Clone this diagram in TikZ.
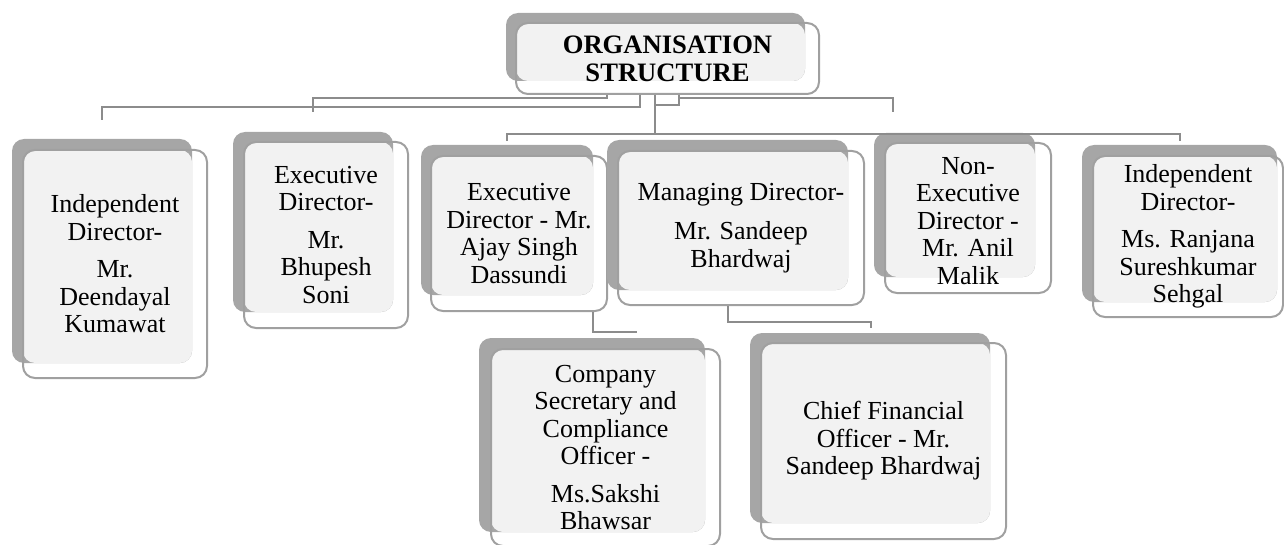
\documentclass[tikz,border=0pt]{standalone}
\usepackage{fontspec}
\setmainfont{Liberation Serif}
\usetikzlibrary{fit}

\definecolor{shade}{HTML}{A6A6A6}
\definecolor{face}{HTML}{F2F2F2}
\definecolor{rim}{HTML}{A0A0A0}
\definecolor{wire}{HTML}{8C8C8C}

\begin{document}
\begin{tikzpicture}[x=0.5pt, y=-0.5pt,
    backbox/.style={fill=shade, rounded corners=6pt},
    facebox/.style={fill=face, rounded corners=6pt},
    rimbox/.style={draw=rim, line width=1pt, rounded corners=6pt, inner sep=0pt},
    txt/.style={align=center, inner sep=0pt, font=\fontsize{13}{13.75}\selectfont},
    headtxt/.style={txt, font=\fontsize{13.3}{14}\selectfont\bfseries},
    wire/.style={draw=wire, line width=1pt}]
\useasboundingbox (0,0) rectangle (1284,545);

% title
\fill[backbox] (506,13) rectangle (805,81);
\fill[facebox] (516,23) rectangle (805,81);
\node[rimbox, fit={(516,23)(819,94)}] (title) {};
\node[headtxt] (title-t) at (title.center) {ORGANISATION\\STRUCTURE};

% first row
\fill[backbox] (12,139) rectangle (192,363);
\fill[facebox] (23,150) rectangle (192,363);
\node[rimbox, fit={(23,150)(207,378)}] (idd) {};
\node[txt] (idd-t) at (idd.center) {Independent\\Director-\\[5pt]Mr.\\Deendayal\\Kumawat};

\fill[backbox] (233,132) rectangle (393,312);
\fill[facebox] (244,142) rectangle (393,312);
\node[rimbox, fit={(244,142)(408,328)}] (edb) {};
\node[txt] (edb-t) at (edb.center) {Executive\\Director-\\[5pt]Mr.\\Bhupesh\\Soni};

\fill[backbox] (421,145) rectangle (593,295);
\fill[facebox] (431,156) rectangle (593,295);
\node[rimbox, fit={(431,156)(607,311)}] (eda) {};
\node[txt] (eda-t) at (eda.center) {Executive\\Director - Mr.\\Ajay Singh\\Dassundi};

\fill[backbox] (607,140) rectangle (848,290);
\fill[facebox] (618,151) rectangle (848,290);
\node[rimbox, fit={(618,151)(864,305)}] (mdir) {};
\node[txt] (mdir-t) at (mdir.center) {Managing Director-\\[6pt]Mr. Sandeep\\Bhardwaj};

\fill[backbox] (874,133) rectangle (1035,277);
\fill[facebox] (885,143) rectangle (1035,277);
\node[rimbox, fit={(885,143)(1051,293)}] (ned) {};
\node[txt] (ned-t) at ([yshift=-1.5pt]ned.center) {Non-\\Executive\\Director -\\Mr. Anil\\Malik};

\fill[backbox] (1082,145) rectangle (1277,302);
\fill[facebox] (1093,156) rectangle (1277,302);
\node[rimbox, fit={(1093,156)(1283,317)}] (idr) {};
\node[txt] (idr-t) at (idr.center) {Independent\\Director-\\[5pt]Ms. Ranjana\\Sureshkumar\\Sehgal};

% second row
\fill[backbox] (479,338) rectangle (705,532);
\fill[facebox] (491,349) rectangle (705,532);
\node[rimbox, fit={(491,349)(720,546)}] (csco) {};
\node[txt] (csco-t) at (csco.center) {Company\\Secretary and\\Compliance\\Officer -\\[5pt]Ms.Sakshi\\Bhawsar};

\fill[backbox] (750,333) rectangle (990,523);
\fill[facebox] (761,343) rectangle (990,523);
\node[rimbox, fit={(761,343)(1006,539)}] (cfo) {};
\node[txt] (cfo-t) at (cfo.center) {Chief Financial\\Officer - Mr.\\Sandeep Bhardwaj};

% connectors
\draw[wire] ([xshift=-30.25pt]title.south) -- ++(0,3) -| ([xshift=-6.5pt,yshift=14.5pt]edb.north);
\draw[wire] ([xshift=-13.75pt]title.south) -- ++(0,12) -| ([xshift=-6.5pt,yshift=14.5pt]idd.north);
\draw[wire] ([xshift=-6.25pt]title.south) -- ++(0,39) coordinate (hub);
\draw[wire] ([xshift=-6pt,yshift=7pt]eda.north) |- (hub) -| ([xshift=-4pt,yshift=7pt]idr.north);
\draw[wire] ([xshift=5.75pt]title.south) -- ++(0,10) -- ++(-24,0);
\draw[wire] ([xshift=5.75pt]title.south) ++(0,3) -| ([xshift=-37.5pt,yshift=15pt]ned.north);
\draw[wire] ([xshift=37pt]eda.south) |- ([xshift=15.75pt,yshift=8pt]csco.north);
\draw[wire] ([xshift=-6.5pt]mdir.south) -- ++(0,16) -| ([xshift=-6.25pt,yshift=7pt]cfo.north);
\end{tikzpicture}
\end{document}
